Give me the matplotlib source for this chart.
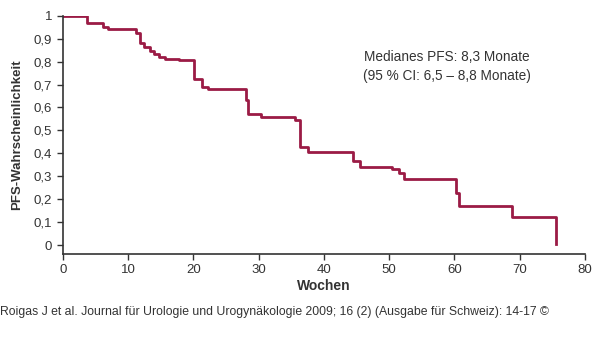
import matplotlib
matplotlib.use("Agg")
import matplotlib.pyplot as plt

plt.rcParams['font.family'] = ['Liberation Sans', 'DejaVu Sans']

# Kaplan-Meier Stufen (Wochen, Wahrscheinlichkeit ab diesem Zeitpunkt)
wochen = [0, 3.75, 6.1, 6.9, 11.2, 11.9, 12.5, 13.3, 13.95, 14.7, 15.7, 17.8,
          20.05, 21.4, 22.3, 28.0, 28.4, 30.3, 35.6, 36.4, 37.6, 44.5, 45.6,
          50.5, 51.5, 52.3, 60.3, 60.75, 68.8, 75.5]
pfs = [1.0, 0.97, 0.95, 0.94, 0.925, 0.88, 0.865, 0.848, 0.834, 0.822, 0.812, 0.805,
       0.724, 0.691, 0.681, 0.634, 0.572, 0.56, 0.545, 0.429, 0.405, 0.366, 0.342,
       0.33, 0.316, 0.29, 0.228, 0.17, 0.124, 0.005]

x_ticks = [0, 10, 20, 30, 40, 50, 60, 70, 80]
y_ticks = [0, 0.1, 0.2, 0.3, 0.4, 0.5, 0.6, 0.7, 0.8, 0.9, 1.0]
y_labels = ["0", "0,1", "0,2", "0,3", "0,4", "0,5", "0,6", "0,7", "0,8", "0,9", "1"]

grau = "#333333"

fig = plt.figure(figsize=(6.0, 3.61), dpi=100)
ax = fig.add_axes([62.7 / 600, 107 / 361, (585 - 62.7) / 600, (254 - 15.7) / 361])

ax.step(wochen, pfs, where="post", color="#9b1b45", linewidth=2.0)

ax.set_xlim(0, 80)
ax.set_ylim(-0.039, 1.0)
ax.set_xticks(x_ticks)
ax.set_yticks(y_ticks)
ax.set_yticklabels(y_labels)
ax.tick_params(colors=grau, labelsize=9.5, length=4, width=1)

for s in ["top", "right"]:
    ax.spines[s].set_visible(False)
for s in ["left", "bottom"]:
    ax.spines[s].set_color(grau)
    ax.spines[s].set_linewidth(1.2)

ax.set_xlabel("Wochen", fontsize=10, fontweight="bold", color=grau, labelpad=2)
ax.set_ylabel("PFS-Wahrscheinlichkeit", fontsize=9.5, fontweight="bold", color=grau, labelpad=8)

ax.text(0.735, 0.785, "Medianes PFS: 8,3 Monate\n(95 % CI: 6,5 \u2013 8,8 Monate)",
        transform=ax.transAxes, ha="center", va="center", fontsize=9.8,
        color=grau, linespacing=1.45)

fig.text(0.0, 1 - 312 / 361, "Roigas J et al. Journal für Urologie und Urogynäkologie 2009; 16 (2) "
         "(Ausgabe für Schweiz): 14-17 \u00a9", fontsize=8.8, color=grau, va="center", ha="left")

fig.savefig("out.png", dpi=100)
